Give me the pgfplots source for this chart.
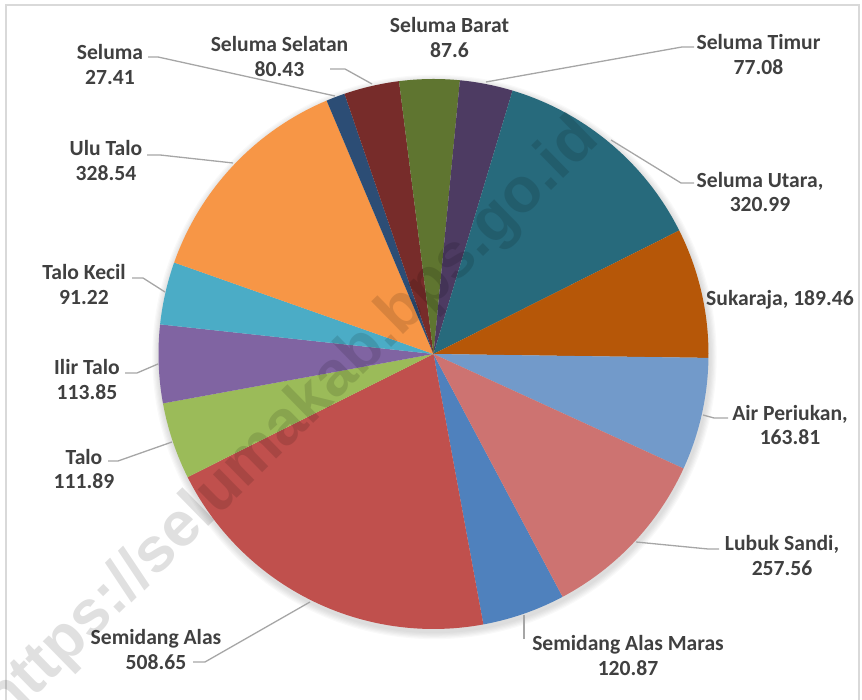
\documentclass[border=0pt]{standalone}
\usepackage{pgfplots}
\pgfplotsset{compat=1.18}
\usepackage{fontspec}
\setmainfont{Carlito}
\newfontfamily\wmfont{Liberation Sans}
\definecolor{cSAM}{HTML}{4F81BD}
\definecolor{cSA}{HTML}{C0504D}
\definecolor{cTalo}{HTML}{9BBB59}
\definecolor{cIlir}{HTML}{8064A2}
\definecolor{cTK}{HTML}{4BACC6}
\definecolor{cUT}{HTML}{F79646}
\definecolor{cSel}{HTML}{2C4D75}
\definecolor{cSS}{HTML}{772C2A}
\definecolor{cSB}{HTML}{5F7530}
\definecolor{cSTim}{HTML}{4D3B62}
\definecolor{cSU}{HTML}{276A7C}
\definecolor{cSuk}{HTML}{B65708}
\definecolor{cAP}{HTML}{729ACA}
\definecolor{cLS}{HTML}{CD7371}
\definecolor{lbl}{HTML}{404040}
\definecolor{lead}{HTML}{A6A6A6}
\definecolor{frame}{HTML}{D9D9D9}
\def\total{2479.36}
\def\startang{152}
\def\cx{433.5}
\def\cy{346}
\def\rr{275}
\gdef\cum{0}
\newcommand\slice[2]{%
  \pgfmathsetmacro\angA{90-\startang-\cum/\total*360}%
  \pgfmathsetmacro\newcum{\cum+#1}%
  \pgfmathsetmacro\angB{90-\startang-\newcum/\total*360}%
  \xdef\cum{\newcum}%
  \edef\doslice{\noexpand\addplot[draw=none, fill=#2, domain=\angB:\angA, samples=60, variable=\noexpand\t] ({\cx+\rr*cos(\noexpand\t)}, {\cy+\rr*sin(\noexpand\t)}) -- (axis cs:\cx,\cy) -- cycle;}%
  \doslice}
\tikzset{lab/.style={align=center, text=lbl, font=\fontsize{10.8}{12.3}\selectfont\bfseries},
  ll/.style={draw=lead, line width=0.65pt}}
\begin{document}
\begin{tikzpicture}
\useasboundingbox (0,0) rectangle (431pt,350pt);
\begin{axis}[scale only axis, width=431pt, height=350pt,
  xmin=0, xmax=862, ymin=0, ymax=700, hide axis, clip=false]
% frame
\draw[frame, line width=1pt] (6,-5) -- (6,695) -- (859,695) -- (859,-5);
% soft shadow
\pgfplotsinvokeforeach{1,...,6}{\fill[black, opacity=0.025] (434.5,343) circle[radius=137.5pt+#1*0.6pt];}
% slices, Excel order, clockwise from first-slice angle
\slice{120.87}{cSAM}   % Semidang Alas Maras
\slice{508.65}{cSA}    % Semidang Alas
\slice{111.89}{cTalo}  % Talo
\slice{113.85}{cIlir}  % Ilir Talo
\slice{91.22}{cTK}     % Talo Kecil
\slice{328.54}{cUT}    % Ulu Talo
\slice{27.41}{cSel}    % Seluma
\slice{80.43}{cSS}     % Seluma Selatan
\slice{87.6}{cSB}      % Seluma Barat
\slice{77.08}{cSTim}   % Seluma Timur
\slice{320.99}{cSU}    % Seluma Utara
\slice{189.46}{cSuk}   % Sukaraja
\slice{163.81}{cAP}    % Air Periukan
\slice{257.56}{cLS}    % Lubuk Sandi
% leader lines
\draw[ll] (148,643)--(158,643)--(335,604);
\draw[ll] (330,631)--(345,631)--(372,616);
\draw[ll] (694,653)--(682,653)--(486,618);
\draw[ll] (694,517)--(681,517)--(611,560);
\draw[ll] (728,282)--(714,282)--(703,285);
\draw[ll] (719,151)--(708,151)--(636,158);
\draw[ll] (524,61)--(524,85);
\draw[ll] (193,38)--(205,38)--(310,98);
\draw[ll] (108,239)--(118,239)--(172,258);
\draw[ll] (125,327)--(137,327)--(158,336);
\draw[ll] (132,422)--(143,422)--(165,408);
\draw[ll] (147,545)--(160,545)--(233,537);
% labels
\node[lab] at (110,635.5) {Seluma\\27.41};
\node[lab] at (279.5,643.5) {Seluma Selatan\\80.43};
\node[lab] at (449.5,662.5) {Seluma Barat\\87.6};
\node[lab] at (758.5,645.5) {Seluma Timur\\77.08};
\node[lab] at (760,508) {Seluma Utara,\\320.99};
\node[lab] at (780,400) {Sukaraja, 189.46};
\node[lab] at (790,275) {Air Periukan,\\163.81};
\node[lab] at (782,144.5) {Lubuk Sandi,\\257.56};
\node[lab] at (628,44.5) {Semidang Alas Maras\\120.87};
\node[lab] at (156,50.5) {Semidang Alas\\508.65};
\node[lab] at (84,231) {Talo\\111.89};
\node[lab] at (87,320.5) {Ilir Talo\\113.85};
\node[lab] at (84,415.5) {Talo Kecil\\91.22};
\node[lab] at (106,539.5) {Ulu Talo\\328.54};
% watermark
\node[rotate=44.4, text=black, text opacity=0.12, font=\wmfont\fontsize{31.5}{31.5}\selectfont\bfseries] at (292,278) {https://selumakab.bps.go.id};
\end{axis}
\end{tikzpicture}
\end{document}
